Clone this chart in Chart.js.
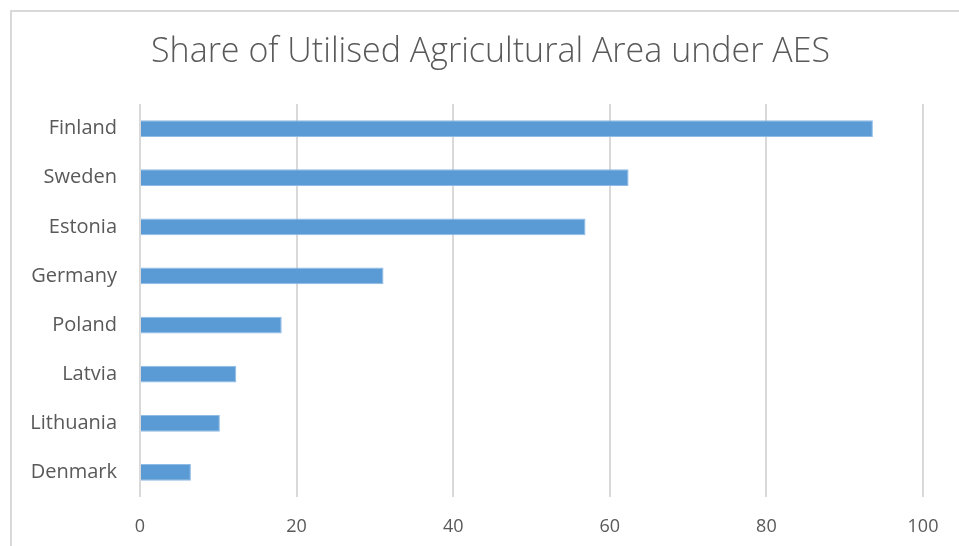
<!DOCTYPE html>
<html>
<head>
<meta charset="utf-8">
<script src="https://cdn.jsdelivr.net/npm/chart.js@4"></script>
<style>
  html, body { margin: 0; padding: 0; background: #fff; overflow: hidden; }
  #wrap { position: absolute; left: 0; top: 0; width: 959px; height: 546px; }
  #frame { position: absolute; left: 10px; top: 10px; width: 960px; height: 550px; border: 2px solid #d9d9d9; box-sizing: border-box; }
</style>
</head>
<body>
<div id="frame"></div>
<div id="wrap"><canvas id="c" width="959" height="546"></canvas></div>
<script>
const categories = ["Finland", "Sweden", "Estonia", "Germany", "Poland", "Latvia", "Lithuania", "Denmark"];
const shareValues = [93.6, 62.4, 56.9, 31.1, 18.1, 12.3, 10.2, 6.5];
const xTicks = [0, 20, 40, 60, 80, 100];
const titleText = "Share of Utilised Agricultural Area under AES";

const FONT = "'Open Sans', 'Liberation Sans', sans-serif";

const titlePlugin = {
  id: 'fixedTitle',
  afterDraw(chart) {
    const ctx = chart.ctx;
    ctx.save();
    ctx.fillStyle = '#595959';
    ctx.font = "300 34px " + FONT;
    ctx.textAlign = 'center';
    ctx.textBaseline = 'middle';
    ctx.fillText(titleText, 490.5, 52);
    ctx.restore();
  }
};

new Chart(document.getElementById('c'), {
  type: 'bar',
  data: {
    labels: categories,
    datasets: [{
      data: shareValues,
      backgroundColor: '#5b9bd5',
      borderColor: '#8fbbe4',
      borderWidth: 1,
      borderSkipped: 'start',
      barPercentage: 0.34,
      categoryPercentage: 1.0
    }]
  },
  plugins: [titlePlugin],
  options: {
    indexAxis: 'y',
    responsive: false,
    animation: false,
    devicePixelRatio: 1,
    layout: { padding: { left: 10, right: 36, top: 104, bottom: 0 } },
    plugins: {
      legend: { display: false },
      tooltip: { enabled: false },
      title: { display: false }
    },
    scales: {
      x: {
        min: 0, max: 100,
        afterBuildTicks: (s) => { s.ticks = xTicks.map(v => ({ value: v })); },
        afterFit: (s) => { s.height = 49; },
        border: { display: false },
        grid: { color: '#d9d9d9', lineWidth: 2, drawTicks: false },
        ticks: { color: '#595959', font: { family: FONT, size: 18 }, padding: 19 }
      },
      y: {
        afterFit: (s) => { s.width = 130; },
        border: { display: false },
        grid: { display: false, drawTicks: false },
        ticks: { color: '#595959', font: { family: FONT, size: 20 }, padding: 23 }
      }
    }
  }
});
</script>
</body>
</html>
